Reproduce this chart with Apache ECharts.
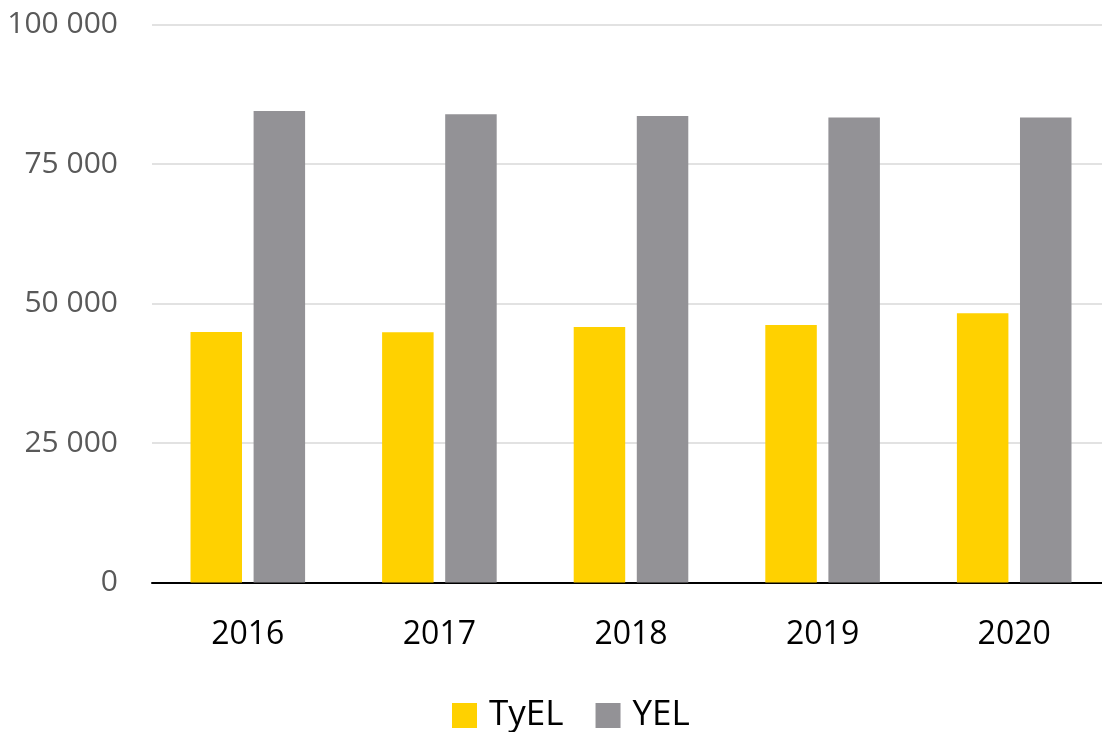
<!DOCTYPE html>
<html>
<head>
<meta charset="utf-8">
<script src="https://cdn.jsdelivr.net/npm/echarts@6/dist/echarts.min.js"></script>
<style>
  html, body { margin: 0; padding: 0; background: #fff; overflow: hidden; }
  #myChart { width: 1110px; height: 732px; }
</style>
</head>
<body>
<div id="myChart"></div>
<script>
// years on the x axis
const years = ["2016", "2017", "2018", "2019", "2020"];
// series values
const tyel = [44900, 44850, 45800, 46150, 48250];
const yel = [84500, 83900, 83600, 83350, 83350];

function fmt(v) {
  // thousands separated by a space
  return String(v).replace(/\B(?=(\d{3})+(?!\d))/g, " ");
}

const chart = echarts.init(document.getElementById("myChart"));
const option = {
  animation: false,
  color: ["#FFD100", "#939296"],
  textStyle: { fontFamily: "Open Sans" },
  grid: {
    left: 152,
    top: 24.5,
    bottom: 149.5,
    right: 0,
  },
  legend: {
    data: ["TyEL", "YEL"],
    top: 693,
    left: 447,
    itemWidth: 25,
    itemHeight: 25,
    itemGap: 32,
    icon: "rect",
    textStyle: {
      color: "#000",
      fontSize: 35,
      padding: [0, 0, 0, 7],
    },
  },
  xAxis: {
    type: "category",
    data: years,
    axisTick: { show: false },
    axisLine: { lineStyle: { color: "#000", width: 2 } },
    axisLabel: {
      color: "#000",
      fontSize: 32,
      margin: 36,
    },
  },
  yAxis: {
    type: "value",
    min: 0,
    max: 100000,
    interval: 25000,
    axisLine: { show: false },
    axisTick: { show: false },
    axisLabel: {
      color: "#595959",
      fontSize: 30,
      margin: 34,
      formatter: fmt,
    },
    splitLine: { lineStyle: { color: "#d9d9d9", width: 1.5 } },
  },
  series: [
    {
      name: "TyEL",
      type: "bar",
      data: tyel,
      barWidth: 51.5,
      barGap: "22.5%",
    },
    {
      name: "YEL",
      type: "bar",
      data: yel,
      barWidth: 51.5,
      barGap: "22.5%",
    },
  ],
};
chart.setOption(option);
</script>
</body>
</html>
